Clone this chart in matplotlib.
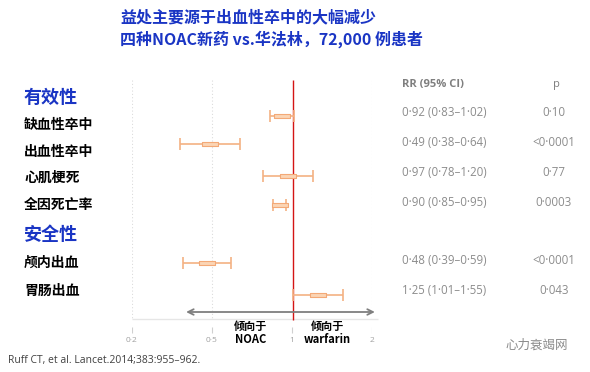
import matplotlib
matplotlib.use('Agg')
import matplotlib.pyplot as plt
import matplotlib.transforms as mtransforms
from matplotlib.path import Path

plt.rcParams['font.family'] = ['Noto Sans CJK SC', 'DejaVu Sans']

# data
outcomes = ['缺血性卒中', '出血性卒中', '心肌梗死', '全因死亡率', '颅内出血', '胃肠出血']
rr = [0.92, 0.49, 0.97, 0.90, 0.48, 1.25]
ci_lo = [0.83, 0.38, 0.78, 0.85, 0.39, 1.01]
ci_hi = [1.02, 0.64, 1.20, 0.95, 0.59, 1.55]
rr_labels = ['0·92 (0·83–1·02)', '0·49 (0·38–0·64)', '0·97 (0·78–1·20)',
             '0·90 (0·85–0·95)', '0·48 (0·39–0·59)', '1·25 (1·01–1·55)']
p_labels = ['0·10', '<0·0001', '0·77', '0·0003', '<0·0001', '0·043']
tick_vals = [0.25, 0.5, 1, 2]
tick_labels = ['0·2', '0·5', '1', '2']

# layout (pixels from top)
W, H = 590, 372
mark_y = [116, 144, 176, 205, 263, 295]
label_y = [125, 152, 178, 205, 263, 291]
text_y = [113, 143, 173, 203, 260, 290]

blue = '#1a35c4'
orange = '#f4b183'
grey = '#8c8c8c'
latin = ['Open Sans', 'DejaVu Sans']

fig = plt.figure(figsize=(W / 100, H / 100), dpi=100)
ax = fig.add_axes([132 / W, 0, 240 / W, 1])
ax.set_xscale('log')
ax.set_xlim(0.25, 2)
ax.set_ylim(H, 0)
ax.axis('off')

# dotted grid + red reference line
ax.vlines(tick_vals[:2] + tick_vals[3:], 80, 320, colors='#dcdcdc',
          linestyles=(0, (1, 2)), lw=0.8)
ax.vlines([1.01], 80, 320, colors='#d41414', lw=1.0, zorder=3)
ax.hlines([319], 0.25, 2.1, colors='#e6e6e6', lw=1.0, clip_on=False)
ax.vlines(tick_vals, 327, 333, colors='#d0d0d0', lw=0.8)
for v, t in zip(tick_vals, tick_labels):
    ax.text(v, 340, t, ha='center', va='center', fontsize=6, color='#a0a0a0',
            family=latin)

ax.annotate('', xy=(0.39, 312), xytext=(2.1, 312),
            arrowprops=dict(arrowstyle='<->', color='#7f7f7f', lw=1.3),
            annotation_clip=False)
ax.text(0.70, 333, '倾向于\nNOAC', ha='center', va='center', fontsize=8,
        fontweight='bold', linespacing=1.0)
ax.text(1.36, 333, '倾向于\nwarfarin', ha='center', va='center', fontsize=8,
        fontweight='bold', linespacing=1.0)

# forest marks
box = Path([(-1.8, -0.5), (1.8, -0.5), (1.8, 0.5), (-1.8, 0.5), (-1.8, -0.5)],
           [Path.MOVETO, Path.LINETO, Path.LINETO, Path.LINETO, Path.CLOSEPOLY])
for i in range(len(outcomes)):
    ax.errorbar(rr[i], mark_y[i],
                xerr=[[rr[i] - ci_lo[i]], [ci_hi[i] - rr[i]]],
                fmt='none', ecolor=orange, elinewidth=1.2, capsize=4,
                capthick=1.2, zorder=4)
    ax.plot(rr[i], mark_y[i], marker=box, markersize=11,
            markerfacecolor='#fbd5b5', markeredgecolor='#f3a977',
            markeredgewidth=0.8, zorder=5)

trans = mtransforms.blended_transform_factory(fig.transFigure, ax.transData)

# left labels
ax.text(24 / W, 97, '有效性', transform=trans, fontsize=13, fontweight='bold',
        color=blue, va='center')
ax.text(24 / W, 235, '安全性', transform=trans, fontsize=13, fontweight='bold',
        color=blue, va='center')
for name, y in zip(outcomes, label_y):
    ax.text(24 / W, y, name, transform=trans, fontsize=10, fontweight='bold',
            va='center')

# right columns
ax.text(402 / W, 84, 'RR (95% CI)', transform=trans, fontsize=8, color='#7f7f7f',
        fontweight='bold', va='center', family=latin)
ax.text(556 / W, 84, 'p', transform=trans, fontsize=8, color='#7f7f7f',
        ha='center', va='center', family=latin)
for r, p, y in zip(rr_labels, p_labels, text_y):
    ax.text(402 / W, y, r, transform=trans, fontsize=8.3, color=grey,
            va='center', family=latin)
    ax.text(554 / W, y, p, transform=trans, fontsize=8.3, color=grey,
            ha='center', va='center', family=latin)

# title
fig.text(120 / W, 1 - 17 / H, '益处主要源于出血性卒中的大幅减少', fontsize=11.5,
         fontweight='bold', color=blue, va='center')
fig.text(120 / W, 1 - 39 / H, '四种NOAC新药 vs.华法林，72,000 例患者', fontsize=11.5,
         fontweight='bold', color=blue, va='center')

# footer
fig.text(8 / W, 1 - 360 / H, 'Ruff CT, et al. Lancet.2014;383:955–962.',
         fontsize=7.5, color='#404040', va='center', family=latin)
fig.text(505 / W, 1 - 345 / H, '心力衰竭网', fontsize=9, color='#8a8a8a',
         va='center')

fig.savefig('out.png', dpi=100)
